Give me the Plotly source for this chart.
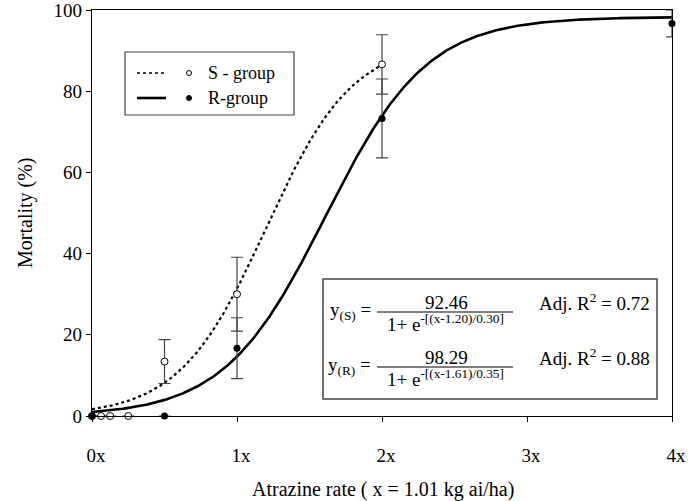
import numpy as np
import plotly.graph_objects as go

# ---- data ----
s_x = [0, 0.0625, 0.125, 0.25, 0.5, 1, 2]
s_y = [0, 0, 0, 0, 13.4, 30.0, 86.6]
s_err = [0, 0, 0, 0, 5.4, 9.1, 7.3]

r_x = [0, 0.5, 1, 2, 4]
r_y = [0, 0, 16.7, 73.3, 96.7]
r_err = [0, 0, 7.5, 9.7, 3.3]

# fitted logistic parameters (from the equations shown)
s_a, s_x0, s_b = 92.46, 1.20, 0.30
r_a, r_x0, r_b = 98.29, 1.61, 0.35

tick_vals = [0, 1, 2, 3, 4]
tick_text = ["0x", "1x", "2x", "3x", "4x"]
y_ticks = [0, 20, 40, 60, 80, 100]

xs_s = np.linspace(0, 2, 200)
xs_r = np.linspace(0, 4, 400)
fit_s = s_a / (1 + np.exp(-(xs_s - s_x0) / s_b))
fit_r = r_a / (1 + np.exp(-(xs_r - r_x0) / r_b))

FONT = "Liberation Serif"
L, R, T, B = 92, 672, 10, 416
W, H = 699, 501


def px(x):
    return (x - L) / (R - L)


def py(y):
    return (B - y) / (B - T)


fig = go.Figure()
fig.add_trace(go.Scatter(x=xs_s, y=fit_s, mode="lines",
                         line=dict(color="black", width=2.2, dash="dot"),
                         showlegend=False, hoverinfo="skip"))
fig.add_trace(go.Scatter(x=xs_r, y=fit_r, mode="lines",
                         line=dict(color="black", width=2.6),
                         showlegend=False, hoverinfo="skip"))
fig.add_trace(go.Scatter(x=s_x, y=s_y, mode="markers",
                         marker=dict(symbol="circle", size=7, color="white",
                                     line=dict(color="black", width=1)),
                         error_y=dict(type="data", array=s_err, visible=True,
                                      color="#444", thickness=1.2, width=6),
                         cliponaxis=False, showlegend=False))
fig.add_trace(go.Scatter(x=r_x, y=r_y, mode="markers",
                         marker=dict(symbol="circle", size=7, color="black"),
                         error_y=dict(type="data", array=r_err, visible=True,
                                      color="#444", thickness=1.2, width=6),
                         cliponaxis=False, showlegend=False))

shapes = []
annots = []

# legend box
shapes.append(dict(type="rect", xref="paper", yref="paper",
                   x0=px(125), x1=px(294), y0=py(115), y1=py(52),
                   line=dict(color="#444", width=1.2), fillcolor="white", layer="above"))
shapes.append(dict(type="line", xref="paper", yref="paper",
                   x0=px(137), x1=px(166), y0=py(73), y1=py(73),
                   line=dict(color="black", width=1.5, dash="dot")))
shapes.append(dict(type="line", xref="paper", yref="paper",
                   x0=px(137), x1=px(166), y0=py(98), y1=py(98),
                   line=dict(color="black", width=2.6)))
shapes.append(dict(type="circle", xref="paper", yref="paper",
                   xsizemode="pixel", ysizemode="pixel",
                   xanchor=px(189), yanchor=py(73), x0=-2.5, x1=2.5, y0=-2.5, y1=2.5,
                   line=dict(color="black", width=1), fillcolor="white"))
shapes.append(dict(type="circle", xref="paper", yref="paper",
                   xsizemode="pixel", ysizemode="pixel",
                   xanchor=px(189), yanchor=py(98), x0=-2.5, x1=2.5, y0=-2.5, y1=2.5,
                   line=dict(color="black", width=1), fillcolor="black"))
annots.append(dict(x=px(206), y=py(73), xref="paper", yref="paper", text="S - group",
                   showarrow=False, xanchor="left", yanchor="middle",
                   font=dict(family=FONT, size=18, color="black")))
annots.append(dict(x=px(206), y=py(98), xref="paper", yref="paper", text="R-group",
                   showarrow=False, xanchor="left", yanchor="middle",
                   font=dict(family=FONT, size=18, color="black")))

# equation box
shapes.append(dict(type="rect", xref="paper", yref="paper",
                   x0=px(323), x1=px(657), y0=py(399), y1=py(279),
                   line=dict(color="#444", width=1.5), fillcolor="white", layer="above"))
eqs = [
    ("y<sub>(S)</sub> =", "92.46", "1+ e<sup>-[(x-1.20)/0.30]</sup>", "Adj. R<sup>2</sup> = 0.72", 312),
    ("y<sub>(R)</sub> =", "98.29", "1+ e<sup>-[(x-1.61)/0.35]</sup>", "Adj. R<sup>2</sup> = 0.88", 367),
]
for lhs, num, den, r2, yl in eqs:
    annots.append(dict(x=px(373), y=py(yl - 1), xref="paper", yref="paper", text=lhs,
                       showarrow=False, xanchor="right", yanchor="middle",
                       font=dict(family=FONT, size=19, color="black")))
    annots.append(dict(x=px(446), y=py(yl - 10), xref="paper", yref="paper", text=num,
                       showarrow=False, xanchor="center", yanchor="middle",
                       font=dict(family=FONT, size=19, color="black")))
    shapes.append(dict(type="line", xref="paper", yref="paper",
                       x0=px(377), x1=px(513), y0=py(yl), y1=py(yl),
                       line=dict(color="black", width=1.2)))
    annots.append(dict(x=px(445), y=py(yl + 11), xref="paper", yref="paper", text=den,
                       showarrow=False, xanchor="center", yanchor="middle",
                       font=dict(family=FONT, size=19, color="black")))
    annots.append(dict(x=px(537), y=py(yl - 10), xref="paper", yref="paper", text=r2,
                       showarrow=False, xanchor="left", yanchor="middle",
                       font=dict(family=FONT, size=19, color="black")))

# axis titles
annots.append(dict(x=px(383), y=py(490), xref="paper", yref="paper",
                   text="Atrazine rate ( x = 1.01 kg ai/ha)", showarrow=False,
                   xanchor="center", yanchor="middle",
                   font=dict(family=FONT, size=20, color="black")))
annots.append(dict(x=px(25), y=py(213), xref="paper", yref="paper",
                   text="Mortality (%)", showarrow=False, textangle=-90,
                   xanchor="center", yanchor="middle",
                   font=dict(family=FONT, size=20, color="black")))

fig.update_layout(
    template="none",
    width=W, height=H,
    margin=dict(l=L, r=W - R, t=T, b=H - B, pad=0),
    paper_bgcolor="white", plot_bgcolor="white",
    font=dict(family=FONT, size=18, color="black"),
    shapes=shapes, annotations=annots, showlegend=False,
    xaxis=dict(range=[0, 4], tickvals=tick_vals, ticktext=tick_text,
               showline=True, linecolor="black", linewidth=1.2, mirror=True,
               ticks="outside", ticklen=5, tickcolor="black", tickwidth=1,
               showgrid=False, zeroline=False, ticklabelstandoff=17,
               ticklabelshift=4, ticklabeloverflow="allow",
               automargin=False,
               tickfont=dict(family=FONT, size=19, color="black")),
    yaxis=dict(range=[0, 100], tickvals=y_ticks,
               showline=True, linecolor="black", linewidth=1.2, mirror=True,
               ticks="outside", ticklen=5, tickcolor="black", tickwidth=1,
               showgrid=False, zeroline=False, automargin=False,
               ticklabeloverflow="allow",
               tickfont=dict(family=FONT, size=19, color="black")),
)

fig.write_html("out.html", config={"displayModeBar": False},
               post_script="document.body.style.margin='0';document.body.style.overflow='hidden';")
